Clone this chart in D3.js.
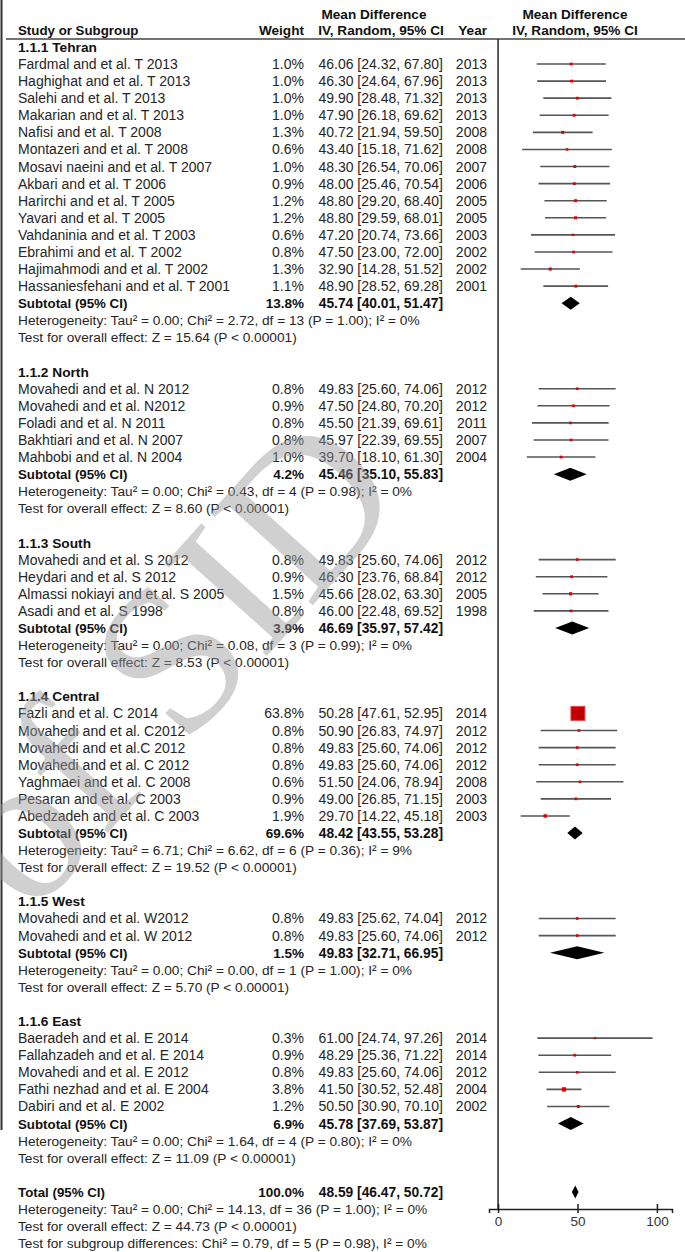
<!DOCTYPE html>
<html>
<head>
<meta charset="utf-8">
<script src="https://cdn.jsdelivr.net/npm/d3@7"></script>
<style>
  html, body { margin: 0; padding: 0; background: #fff; }
  svg text { font-family: "Liberation Sans", Arial, sans-serif; }
</style>
</head>
<body>
<svg id="forest" width="685" height="1252"></svg>
<script>
// ---- data ----
const groupNames = ["1.1.1 Tehran", "1.1.2 North", "1.1.3 South", "1.1.4 Central", "1.1.5 West", "1.1.6 East"];

const studyNames = [
  "Fardmal and et al. T 2013", "Haghighat and et al. T 2013", "Salehi and et al. T 2013", "Makarian and et al. T 2013",
  "Nafisi and et al. T 2008", "Montazeri and et al. T 2008", "Mosavi naeini and et al. T 2007", "Akbari and et al. T 2006",
  "Harirchi and et al. T 2005", "Yavari and et al. T 2005", "Vahdaninia and et al. T 2003", "Ebrahimi and et al. T 2002",
  "Hajimahmodi and et al. T 2002", "Hassaniesfehani and et al. T 2001",
  "Movahedi and et al. N 2012", "Movahedi and et al. N2012", "Foladi and et al. N 2011", "Bakhtiari and et al. N 2007",
  "Mahbobi and et al. N 2004",
  "Movahedi and et al. S 2012", "Heydari and et al. S 2012", "Almassi nokiayi and et al. S 2005", "Asadi and et al. S 1998",
  "Fazli and et al. C 2014", "Movahedi and et al. C2012", "Movahedi and et al.C 2012", "Movahedi and et al. C 2012",
  "Yaghmaei and et al. C 2008", "Pesaran and et al. C 2003", "Abedzadeh and et al. C 2003",
  "Movahedi and et al. W2012", "Movahedi and et al. W 2012",
  "Baeradeh and et al. E 2014", "Fallahzadeh and et al. E 2014", "Movahedi and et al. E 2012",
  "Fathi nezhad and et al. E 2004", "Dabiri and et al. E 2002"
];
const studyGroup = [0,0,0,0,0,0,0,0,0,0,0,0,0,0, 1,1,1,1,1, 2,2,2,2, 3,3,3,3,3,3,3, 4,4, 5,5,5,5,5];
const studyWeight = [1.0,1.0,1.0,1.0,1.3,0.6,1.0,0.9,1.2,1.2,0.6,0.8,1.3,1.1, 0.8,0.9,0.8,0.8,1.0, 0.8,0.9,1.5,0.8,
  63.8,0.8,0.8,0.8,0.6,0.9,1.9, 0.8,0.8, 0.3,0.9,0.8,3.8,1.2];
const studyMean = [46.06,46.30,49.90,47.90,40.72,43.40,48.30,48.00,48.80,48.80,47.20,47.50,32.90,48.90,
  49.83,47.50,45.50,45.97,39.70, 49.83,46.30,45.66,46.00,
  50.28,50.90,49.83,49.83,51.50,49.00,29.70, 49.83,49.83, 61.00,48.29,49.83,41.50,50.50];
const studyLow = [24.32,24.64,28.48,26.18,21.94,15.18,26.54,25.46,29.20,29.59,20.74,23.00,14.28,28.52,
  25.60,24.80,21.39,22.39,18.10, 25.60,23.76,28.02,22.48,
  47.61,26.83,25.60,25.60,24.06,26.85,14.22, 25.62,25.60, 24.74,25.36,25.60,30.52,30.90];
const studyHigh = [67.80,67.96,71.32,69.62,59.50,71.62,70.06,70.54,68.40,68.01,73.66,72.00,51.52,69.28,
  74.06,70.20,69.61,69.55,61.30, 74.06,68.84,63.30,69.52,
  52.95,74.97,74.06,74.06,78.94,71.15,45.18, 74.04,74.06, 97.26,71.22,74.06,52.48,70.10];
const studyYear = [2013,2013,2013,2013,2008,2008,2007,2006,2005,2005,2003,2002,2002,2001,
  2012,2012,2011,2007,2004, 2012,2012,2005,1998, 2014,2012,2012,2012,2008,2003,2003, 2012,2012,
  2014,2014,2012,2004,2002];

const subWeight = [13.8, 4.2, 3.9, 69.6, 1.5, 6.9];
const subMean = [45.74, 45.46, 46.69, 48.42, 49.83, 45.78];
const subLow = [40.01, 35.10, 35.97, 43.55, 32.71, 37.69];
const subHigh = [51.47, 55.83, 57.42, 53.28, 66.95, 53.87];
const subHet = [
  "Heterogeneity: Tau² = 0.00; Chi² = 2.72, df = 13 (P = 1.00); I² = 0%",
  "Heterogeneity: Tau² = 0.00; Chi² = 0.43, df = 4 (P = 0.98); I² = 0%",
  "Heterogeneity: Tau² = 0.00; Chi² = 0.08, df = 3 (P = 0.99); I² = 0%",
  "Heterogeneity: Tau² = 6.71; Chi² = 6.62, df = 6 (P = 0.36); I² = 9%",
  "Heterogeneity: Tau² = 0.00; Chi² = 0.00, df = 1 (P = 1.00); I² = 0%",
  "Heterogeneity: Tau² = 0.00; Chi² = 1.64, df = 4 (P = 0.80); I² = 0%"
];
const subTest = [
  "Test for overall effect: Z = 15.64 (P < 0.00001)",
  "Test for overall effect: Z = 8.60 (P < 0.00001)",
  "Test for overall effect: Z = 8.53 (P < 0.00001)",
  "Test for overall effect: Z = 19.52 (P < 0.00001)",
  "Test for overall effect: Z = 5.70 (P < 0.00001)",
  "Test for overall effect: Z = 11.09 (P < 0.00001)"
];

const totalWeight = [100.0];
const totalMean = [48.59];
const totalLow = [46.47];
const totalHigh = [50.72];
const totalNotes = [
  "Heterogeneity: Tau² = 0.00; Chi² = 14.13, df = 36 (P = 1.00); I² = 0%",
  "Test for overall effect: Z = 44.73 (P < 0.00001)",
  "Test for subgroup differences: Chi² = 0.79, df = 5 (P = 0.98), I² = 0%"
];

const xTicks = [0, 50, 100];

// ---- layout ----
const svg = d3.select("#forest");
const ROW = 17.09;
// every line of the table sits on one row slot
const yRow = d3.scaleLinear().domain([0, 1]).range([46.9, 46.9 + ROW]);
const x = d3.scaleLinear().domain([-5.7, 109.5]).range([489, 672]);

const colStudy = 18, colWeight = 304, colCI = 443, colYear = 487;
const fmt2 = d3.format(".2f"), fmt1 = d3.format(".1f");
const ciText = (m, l, h) => fmt2(m) + " [" + fmt2(l) + ", " + fmt2(h) + "]";

function addText(px, py, str, anchor, bold, size, fill) {
  return svg.append("text")
    .attr("x", px).attr("y", py)
    .attr("text-anchor", anchor || "start")
    .attr("font-weight", bold ? "bold" : "normal")
    .attr("font-size", size || 14)
    .attr("fill", fill || "#262626")
    .text(str);
}

// build the list of lines (slot index for each thing)
let slot = 0;
const studySlot = [], subSlot = [], headSlot = [], hetSlot = [], testSlot = [];
for (let g = 0; g < groupNames.length; g++) {
  headSlot.push(slot++);
  for (let i = 0; i < studyNames.length; i++) {
    if (studyGroup[i] == g) studySlot[i] = slot++;
  }
  subSlot.push(slot++);
  hetSlot.push(slot++);
  testSlot.push(slot++);
  slot++; // blank line
}
const totalSlot = slot;

// ---- header ----
const hSize = 13.6;
addText(374, 18.5, "Mean Difference", "middle", true, hSize, "#111");
addText(575, 18.5, "Mean Difference", "middle", true, hSize, "#111");
addText(colStudy, 34.5, "Study or Subgroup", "start", true, 13.3, "#111");
addText(colWeight, 34.5, "Weight", "end", true, hSize, "#111");
addText(381, 34.5, "IV, Random, 95% CI", "middle", true, hSize, "#111");
addText(colYear, 34.5, "Year", "end", true, hSize, "#111");
addText(575, 34.5, "IV, Random, 95% CI", "middle", true, hSize, "#111");

svg.append("line").attr("x1", 6).attr("x2", 685).attr("y1", 39).attr("y2", 39)
  .attr("stroke", "#444").attr("stroke-width", 1.5);

// left frame line
svg.append("line").attr("x1", 1.5).attr("x2", 1.5).attr("y1", 0).attr("y2", 1130)
  .attr("stroke", "#333").attr("stroke-width", 2);

// ---- table text ----
const base = 5; // text baseline below the row centre
const noteSize = 13.7, boldSize = 13.5;
groupNames.forEach((g, k) => {
  addText(colStudy, yRow(headSlot[k]) + base, g, "start", true, 13.7, "#111");
  addText(colStudy, yRow(subSlot[k]) + base, "Subtotal (95% CI)", "start", true, 13.3, "#111");
  addText(colWeight, yRow(subSlot[k]) + base, fmt1(subWeight[k]) + "%", "end", true, boldSize, "#111");
  addText(colCI, yRow(subSlot[k]) + base, ciText(subMean[k], subLow[k], subHigh[k]), "end", true, 13.8, "#111");
  addText(colStudy, yRow(hetSlot[k]) + base, subHet[k], "start", false, noteSize);
  addText(colStudy, yRow(testSlot[k]) + base, subTest[k], "start", false, noteSize);
});

studyNames.forEach((s, i) => {
  const yy = yRow(studySlot[i]) + base;
  addText(colStudy, yy, s);
  addText(colWeight, yy, fmt1(studyWeight[i]) + "%", "end");
  addText(colCI, yy, ciText(studyMean[i], studyLow[i], studyHigh[i]), "end");
  addText(colYear, yy, studyYear[i], "end");
});

addText(colStudy, yRow(totalSlot) + base, "Total (95% CI)", "start", true, 13.3, "#111");
addText(colWeight, yRow(totalSlot) + base, fmt1(totalWeight[0]) + "%", "end", true, boldSize, "#111");
addText(colCI, yRow(totalSlot) + base, ciText(totalMean[0], totalLow[0], totalHigh[0]), "end", true, 13.8, "#111");
totalNotes.forEach((t, j) => addText(colStudy, yRow(totalSlot + 1 + j) + base, t, "start", false, noteSize));

// ---- plot ----
const axisY = yRow(totalSlot + 1);

// zero line
svg.append("line")
  .attr("x1", x(0)).attr("x2", x(0)).attr("y1", 39).attr("y2", axisY)
  .attr("stroke", "#222").attr("stroke-width", 1.5);

// confidence interval lines
svg.append("g").selectAll("line")
  .data(studyNames.map((d, i) => i))
  .join("line")
  .attr("x1", i => x(studyLow[i]))
  .attr("x2", i => x(studyHigh[i]))
  .attr("y1", i => yRow(studySlot[i]))
  .attr("y2", i => yRow(studySlot[i]))
  .attr("stroke", "#555")
  .attr("stroke-width", 1.6);

// point estimates, square area follows the weight
const boxSide = w => 1.6 * Math.sqrt(w) + 1.2;
svg.append("g").selectAll("rect")
  .data(studyNames.map((d, i) => i))
  .join("rect")
  .attr("x", i => x(studyMean[i]) - boxSide(studyWeight[i]) / 2)
  .attr("y", i => yRow(studySlot[i]) - boxSide(studyWeight[i]) / 2)
  .attr("width", i => boxSide(studyWeight[i]))
  .attr("height", i => boxSide(studyWeight[i]))
  .attr("fill", i => studyWeight[i] > 10 ? "#c00000" : "#e00000")
  .attr("stroke", i => studyWeight[i] > 10 ? "#ee4444" : "none")
  .attr("stroke-width", 1);

// diamonds for subtotals and total
function diamond(m, l, h, yc, hh) {
  return [[x(l), yc], [x(m), yc - hh], [x(h), yc], [x(m), yc + hh]];
}
const line = d3.line();
subMean.forEach((m, k) => {
  svg.append("path")
    .attr("d", line(diamond(m, subLow[k], subHigh[k], yRow(subSlot[k]), 6.5)) + "Z")
    .attr("fill", "#000");
});
svg.append("path")
  .attr("d", line(diamond(totalMean[0], totalLow[0], totalHigh[0], yRow(totalSlot), 6.5)) + "Z")
  .attr("fill", "#000");

// axis
const axis = d3.axisBottom(x).tickValues(xTicks).tickSize(4).tickPadding(3).tickFormat(d3.format("d"));
const gAxis = svg.append("g").attr("transform", "translate(0," + axisY + ")").call(axis);
gAxis.select(".domain").attr("stroke", "#222").attr("stroke-width", 1.5);
gAxis.selectAll(".tick line").attr("y1", -5).attr("stroke", "#222").attr("stroke-width", 1.5);
gAxis.selectAll(".tick text")
  .attr("font-size", 13.5).attr("fill", "#333")
  .attr("font-family", "Liberation Sans, Arial, sans-serif");

// ---- watermark over everything ----
svg.append("text")
  .attr("transform", "translate(410,497) rotate(-48)")
  .attr("text-anchor", "end")
  .attr("font-size", 210)
  .style("font-family", "'Liberation Serif', serif")
  .attr("fill", "#999")
  .attr("opacity", 0.45)
  .text("of SID");
</script>
</body>
</html>
